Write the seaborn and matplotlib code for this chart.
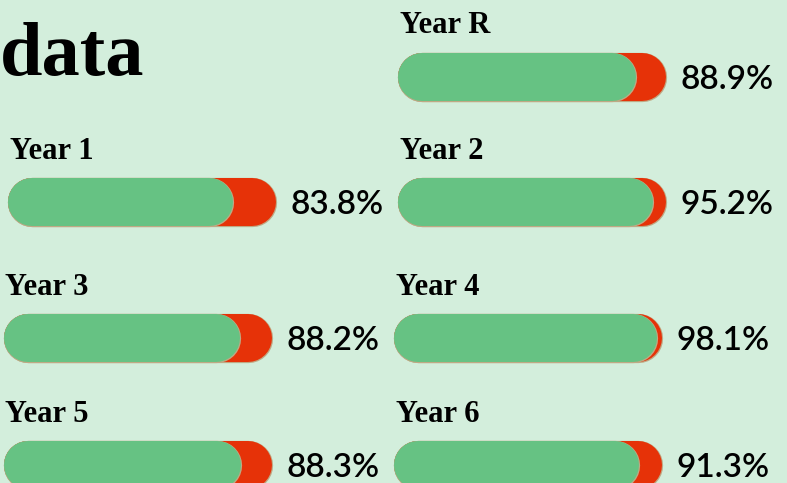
import matplotlib
matplotlib.use("Agg")
import matplotlib.pyplot as plt
import matplotlib.patheffects as pe
import seaborn as sns

# attendance per year group (percent)
years = ["Year R", "Year 1", "Year 2", "Year 3", "Year 4", "Year 5", "Year 6"]
attendance = [88.9, 83.8, 95.2, 88.2, 98.1, 88.3, 91.3]
title = "data"

# layout (pixels): left edge of each pill, top of each pill, label baseline
bar_left = [398, 8, 398, 4, 394, 4, 394]
bar_top = [53, 178, 178, 314, 314, 441, 441]
label_base = [33, 159, 159, 295, 295, 422, 422]
label_left = [400, 10, 400, 5, 396, 5, 396]

BAR_W = 268
BAR_H = 48
BG = "#d3eedc"
GREEN = "#66c283"
RED = "#e63208"
EDGE = "#bfa984"

sns.set_theme(style="white", rc={"figure.facecolor": BG, "axes.facecolor": BG})

fig = plt.figure(figsize=(7.87, 4.83), dpi=100)
ax = fig.add_axes([0, 0, 1, 1])
ax.set_xlim(0, 787)
ax.set_ylim(483, 0)
ax.axis("off")

lw = BAR_H * 72 / 100  # pill height in points
r = BAR_H / 2
edge = [pe.Stroke(linewidth=lw + 0.9, foreground=EDGE), pe.Normal()]

for name, val, x0, y0, lb, lx in zip(years, attendance, bar_left, bar_top,
                                      label_base, label_left):
    yc = y0 + r
    # full pill (red) then attendance share (green)
    ax.plot([x0 + r, x0 + BAR_W - r], [yc, yc], color=RED, lw=lw,
            solid_capstyle="round", path_effects=edge)
    ax.plot([x0 + r, x0 + BAR_W * val / 100 - r], [yc, yc], color=GREEN, lw=lw,
            solid_capstyle="round", path_effects=edge)
    ax.text(lx, lb, name, ha="left", va="baseline", fontsize=22,
            fontweight="bold", family=["Liberation Serif", "DejaVu Serif"],
            color="black")
    ax.text(x0 + BAR_W + 14, yc, f"{val:.1f}%", ha="left", va="center_baseline",
            fontsize=24, fontweight="semibold", family=["Lato", "DejaVu Sans"],
            color="black")

ax.text(0, 75, title, ha="left", va="baseline", fontsize=55,
        fontweight="bold", family=["Liberation Serif", "DejaVu Serif"],
        color="black")

fig.savefig("out.png", dpi=100, facecolor=BG)
